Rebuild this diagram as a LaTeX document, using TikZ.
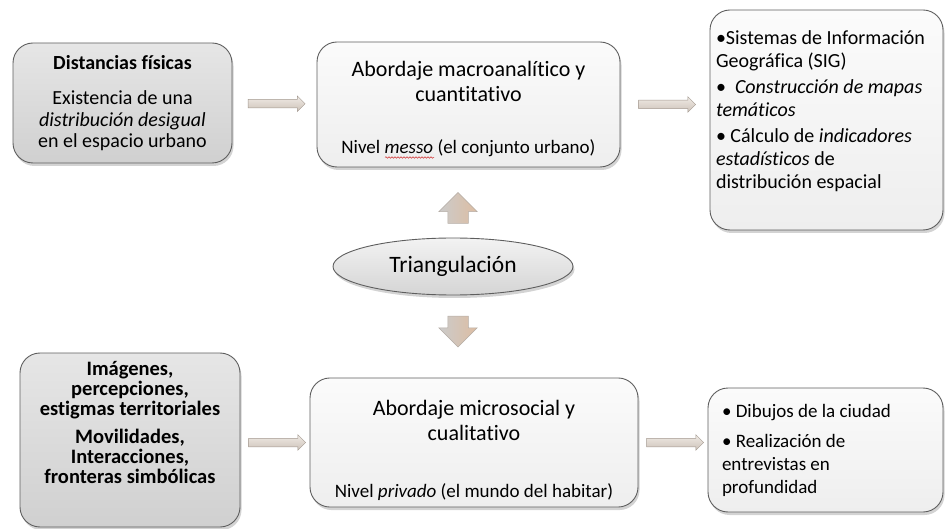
\documentclass[tikz,border=0pt]{standalone}
\usepackage{fontspec}
\setmainfont{Carlito}[Ligatures = NoCommon]
\usetikzlibrary{shapes.geometric,shapes.arrows,shadows,calc,decorations.pathmorphing}

\definecolor{boxline}{HTML}{5E5E5E}
\definecolor{greytop}{HTML}{E6E6E6}
\definecolor{greybot}{HTML}{D0D0D0}
\definecolor{paletop}{HTML}{FBFBFB}
\definecolor{palebot}{HTML}{EEEEEE}
\definecolor{arrowline}{HTML}{A39990}
\definecolor{arrowtop}{HTML}{F0EBE6}
\definecolor{arrowbot}{HTML}{CDC2B8}
\definecolor{arrowtan}{HTML}{DDBDA2}
\definecolor{arrowgrey}{HTML}{CBCBCB}
\definecolor{spellred}{HTML}{D03030}

\newcommand{\boxtext}{\fontsize{19}{21}\selectfont}
\newcommand{\listtext}{\fontsize{20}{23}\selectfont}
\newcommand{\boxtitle}{\fontsize{22}{25}\selectfont}

\tikzset{
	box/.style = {draw = boxline, line width = 0.9pt, rounded corners = 20pt, inner sep = 6pt,
		drop shadow = {shadow xshift = 1.5pt, shadow yshift = -3pt, opacity = 0.35}},
	greybox/.style = {box, top color = greytop, bottom color = greybot, align = center},
	palebox/.style = {box, top color = paletop, bottom color = palebot},
	harrow/.style = {single arrow, draw = arrowline, line width = 0.5pt, inner xsep = 0pt, inner ysep = 4pt,
		minimum height = 57pt, single arrow head extend = 3.5pt,
		top color = arrowtop, bottom color = arrowbot},
	varrow/.style = {single arrow, draw = arrowline!80, line width = 0.5pt, inner xsep = 0pt, inner ysep = 10pt,
		minimum height = 31pt, single arrow head extend = 9pt,
		left color = arrowgrey, right color = arrowtan}
}

\begin{document}
\begin{tikzpicture}[x = 1pt, y = -1pt]
	\useasboundingbox (0,0) rectangle (945,529);
	\node [greybox, font = \fontsize{20}{21.5}\selectfont, minimum width = 219pt, minimum height = 120pt] (dist) at (122.5,103)
		{{\bfseries Distancias físicas}\\[14pt]Existencia de una\\\textit{distribución desigual}\\en el espacio urbano};
	\node [palebox, align = center, font = \boxtitle, minimum width = 303pt, minimum height = 125pt] (macro) at (468.5,104.5)
		{\rule{0pt}{24pt}Abordaje macroanalítico y\\cuantitativo\\[27pt]{\boxtext Nivel \textit{messo} (el conjunto urbano)}};
	\draw [spellred, line width = 0.5pt, decorate, decoration = {snake, amplitude = 0.8pt, segment length = 3pt}]
		(385,157.5) -- (434,157.5);
	\node [palebox, align = flush left, font = \listtext, text width = 221pt, text depth = 164pt,
		minimum width = 233pt, minimum height = 220pt] (sig) at (826.5,120)
		{•Sistemas de Información\\Geográfica (SIG)\\[3pt]•~~\textit{Construcción de mapas}\\\textit{temáticos}\\[3pt]•~Cálculo de \textit{indicadores}\\\textit{estadísticos} de\\distribución espacial};
	\node [box, ellipse, top color = paletop!60!greytop, bottom color = greybot!80!greytop, font = \fontsize{23.5}{26}\selectfont,
		inner sep = 0pt, minimum width = 240pt, minimum height = 57pt] (tri) at (453,266.5) {Triangulación};
	\node [greybox, font = \fontsize{20.5}{20}\selectfont\bfseries, text depth = 36pt, minimum width = 220pt, minimum height = 174pt] (imag) at (130,440)
		{Imágenes,\\percepciones,\\estigmas territoriales\\[8pt]Movilidades,\\Interacciones,\\fronteras simbólicas};
	\node [palebox, align = center, font = \boxtitle, minimum width = 328pt, minimum height = 129pt] (micro) at (474,442.5)
		{\rule{0pt}{32pt}Abordaje microsocial y\\cualitativo\\[32pt]{\boxtext Nivel \textit{privado} (el mundo del habitar)}};
	\node [palebox, align = flush left, font = \fontsize{19}{23}\selectfont, text width = 207pt, minimum width = 235pt, minimum height = 124pt] (tecn) at (825.5,450)
		{•~Dibujos de la ciudad\\[7pt]•~Realización de\\entrevistas en\\profundidad};
	\node [harrow] (a1) at ($(dist.east)!0.5!(macro.west)$) {};
	\node [harrow] (a2) at ($(macro.east)!0.5!(macro.east -| sig.west)$) {};
	\node [harrow] (a3) at ($(imag.east |- micro.west)!0.5!(micro.west)$) {};
	\node [harrow] (a4) at ($(micro.east)!0.5!(micro.east -| tecn.west)$) {};
	\node [varrow, rotate = 90] (up) at ([xshift = 5pt, yshift = 24.5pt]tri.north) {};
	\node [varrow, rotate = -90] (down) at ([xshift = 5pt, yshift = -31pt]tri.south) {};
\end{tikzpicture}
\end{document}
